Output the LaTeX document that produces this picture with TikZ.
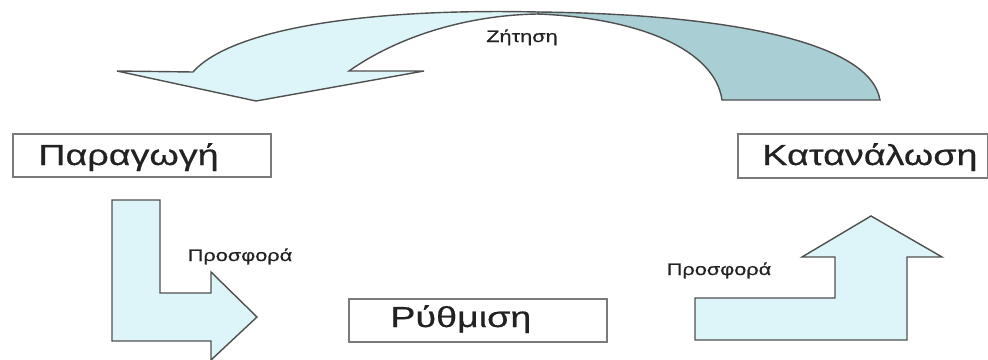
\documentclass[tikz,border=0pt]{standalone}
\usepackage{fontspec}
\setmainfont{Liberation Sans}
\newfontfamily\widefont[FakeStretch=1.3,FakeBold=0.5]{Liberation Sans}
\usepackage{tikz}

\definecolor{bandlight}{HTML}{DDF5F9}
\definecolor{banddark}{HTML}{A9CED4}
\definecolor{edgegray}{HTML}{505050}
\definecolor{boxgray}{HTML}{7A7A7A}
\definecolor{inkgray}{HTML}{222222}

\begin{document}
\begin{tikzpicture}[x={(0.02cm,0cm)}, y={(0cm,-0.02cm)},
  flowband/.style={fill=bandlight, draw=edgegray, line width=0.8pt, line join=miter},
  stage/.style={draw=boxgray, line width=0.9pt, fill=white, inner sep=0pt, anchor=north west},
  bigtxt/.style={font=\widefont\fontsize{16.5}{18}\selectfont, text=inkgray, inner sep=0pt},
  smalltxt/.style={font=\widefont\fontsize{9.5}{11}\selectfont, text=inkgray, inner sep=0pt, anchor=base}]

\useasboundingbox (0,0) rectangle (988,359);

% Demand arrow (back band, then front band)
\filldraw[flowband, fill=banddark] (538,12) .. controls (720,14) and (870,40) .. (880,100)
  -- (722,100) .. controls (715,50) and (640,18) .. (538,14) -- cycle;
\filldraw[flowband] (538,12) .. controls (360,8) and (230,30) .. (193,72)
  -- (117,71) -- (256,101) -- (424,71) -- (349,71)
  .. controls (400,35) and (470,15) .. (538,14) -- cycle;

% Supply arrows
\filldraw[flowband] (112,200) -- (160,200) -- (160,293) -- (211,293) -- (211,272)
  -- (257,317) -- (211,360) -- (211,341) -- (112,341) -- cycle;
\filldraw[flowband] (695,340) -- (695,298) -- (835,298) -- (835,257) -- (802,257)
  -- (871,216) -- (942,257) -- (907,257) -- (907,340) -- cycle;

% Stages
\node[stage, minimum width=5.16cm, minimum height=0.86cm] (prod) at (12,133) {};
\node[stage, minimum width=5.00cm, minimum height=0.88cm] (cons) at (737,133) {};
\node[stage, minimum width=5.16cm, minimum height=0.86cm] (reg) at (348,298) {};

\node[bigtxt, anchor=base west] (prodtxt) at (38,165) {Παραγωγή};
\node[bigtxt, anchor=base west] (constxt) at (762,165) {Κατανάλωση};
\node[bigtxt, anchor=base west] (regtxt) at (390,327) {Ρύθμιση};

% Labels
\node[smalltxt] (demand) at (522,42) {Ζήτηση};
\node[smalltxt] (supplyl) at (240,261) {Προσφορά};
\node[smalltxt] (supplyr) at (719,275) {Προσφορά};

\end{tikzpicture}
\end{document}
